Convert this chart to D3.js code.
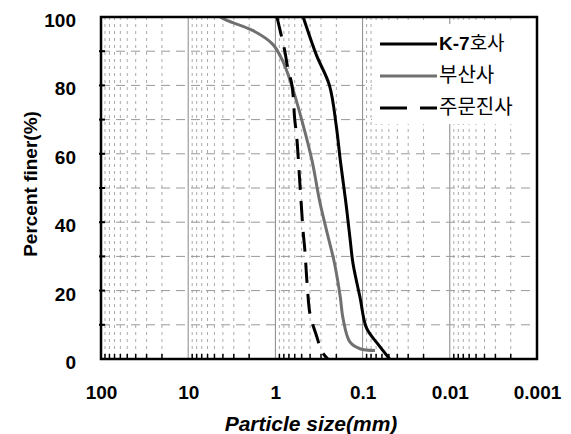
<!DOCTYPE html>
<html>
<head>
<meta charset="utf-8">
<script src="https://cdn.jsdelivr.net/npm/d3@7"></script>
<style>
  body { margin: 0; background: #fff; }
  svg { font-family: Arial, "Liberation Sans", sans-serif; }
</style>
</head>
<body>
<div class="chart"></div>
<script>
// tick values
const xTicks = [100, 10, 1, 0.1, 0.01, 0.001];
const xTickLabels = ["100", "10", "1", "0.1", "0.01", "0.001"];
const yTicks = [0, 20, 40, 60, 80, 100];

// series: [particle size (mm), percent finer]
const k7 = [[0.48, 100], [0.34, 89], [0.24, 80], [0.20, 68], [0.18, 58], [0.156, 46],
  [0.139, 35], [0.129, 28], [0.107, 18], [0.09, 9], [0.067, 4.4], [0.049, 0]];
const busan = [[4.3, 100], [3.6, 99], [1.8, 96], [1.07, 92], [0.82, 87], [0.65, 80],
  [0.5, 70], [0.38, 58], [0.31, 46], [0.25, 36], [0.21, 28], [0.18, 18], [0.168, 12],
  [0.14, 5], [0.107, 3], [0.072, 2.5]];
const jumunjin = [[0.96, 100], [0.78, 90], [0.72, 85], [0.645, 80], [0.6, 70], [0.57, 65],
  [0.52, 50], [0.48, 37], [0.46, 32], [0.43, 21], [0.40, 13], [0.34, 7], [0.29, 2], [0.25, 0]];

const seriesNames = ["K-7호사", "부산사", "주문진사"];

function setupChart() {
  const width = 571;
  const height = 434;
  const margin = {top: 17, right: 34, bottom: 75, left: 101};
  const graphWidth = width - margin.left - margin.right;
  const graphHeight = height - margin.top - margin.bottom;

  const x = d3.scaleLog().domain([100, 0.001]).range([0, graphWidth]);
  const y = d3.scaleLinear().domain([0, 100]).range([graphHeight, 0]);

  const svg = d3.select('.chart').append('svg')
    .attr('width', width)
    .attr('height', height);

  const graph = svg.append('g')
    .attr('transform', `translate(${margin.left}, ${margin.top})`);

  return {svg, graph, x, y, graphWidth, graphHeight, margin};
}

function drawChart(c) {
  const {graph, x, y, graphWidth, graphHeight} = c;

  // minor values for each decade
  const minors = [];
  for (let e = -3; e < 2; e++) {
    for (let m = 2; m <= 9; m++) minors.push(m * Math.pow(10, e));
  }

  // vertical grid
  graph.append('g').selectAll('line.minor')
    .data(minors).enter().append('line')
      .attr('x1', d => x(d)).attr('x2', d => x(d))
      .attr('y1', 0).attr('y2', graphHeight)
      .attr('stroke', '#aaa')
      .attr('stroke-width', 1)
      .attr('stroke-dasharray', '3,4');

  graph.append('g').selectAll('line.major')
    .data(xTicks.slice(1, -1)).enter().append('line')
      .attr('x1', d => x(d)).attr('x2', d => x(d))
      .attr('y1', 0).attr('y2', graphHeight)
      .attr('stroke', '#888')
      .attr('stroke-width', 1);

  // horizontal grid every 10%
  graph.append('g').selectAll('line')
    .data(d3.range(10, 100, 10)).enter().append('line')
      .attr('x1', 0).attr('x2', graphWidth)
      .attr('y1', d => y(d)).attr('y2', d => y(d))
      .attr('stroke', '#999')
      .attr('stroke-width', 1)
      .attr('stroke-dasharray', '9,6');

  // legend background covers grid
  const legend = graph.append('g').attr('transform', 'translate(271, 7)');
  legend.append('rect')
    .attr('width', 165).attr('height', 100)
    .attr('fill', '#fff');

  // curves
  const line = d3.line()
    .x(d => x(d[0]))
    .y(d => y(d[1]))
    .curve(d3.curveCatmullRom.alpha(0.5));

  graph.append('path').datum(busan)
    .attr('d', line)
    .attr('fill', 'none')
    .attr('stroke', '#707070')
    .attr('stroke-width', 3);

  graph.append('path').datum(jumunjin)
    .attr('d', line)
    .attr('fill', 'none')
    .attr('stroke', '#000')
    .attr('stroke-width', 3)
    .attr('stroke-dasharray', '20,11');

  graph.append('path').datum(k7)
    .attr('d', line)
    .attr('fill', 'none')
    .attr('stroke', '#000')
    .attr('stroke-width', 3);

  // axes
  const yAxis = d3.axisLeft(y)
    .tickValues(yTicks)
    .tickSize(0)
    .tickPadding(25);
  const gy = graph.append('g').call(yAxis);
  gy.select('.domain').remove();
  gy.selectAll('text')
    .attr('dy', '0.5em')
    .attr('font-size', 19)
    .attr('font-weight', 'bold')
    .attr('fill', '#000');

  // y inner ticks every 10
  graph.append('g').selectAll('line')
    .data(d3.range(10, 100, 10)).enter().append('line')
      .attr('x1', -2).attr('x2', 4)
      .attr('y1', d => y(d)).attr('y2', d => y(d))
      .attr('stroke', '#000').attr('stroke-width', 2);

  const xAxis = d3.axisBottom(x)
    .tickValues(xTicks)
    .tickFormat((d, i) => xTickLabels[i])
    .tickSize(0)
    .tickPadding(27);
  const gx = graph.append('g')
    .attr('transform', `translate(0, ${graphHeight})`)
    .call(xAxis);
  gx.select('.domain').remove();
  gx.selectAll('text')
    .attr('font-size', 19)
    .attr('font-weight', 'bold')
    .attr('fill', '#000');

  // x minor ticks (inside)
  graph.append('g').selectAll('line')
    .data(minors).enter().append('line')
      .attr('x1', d => x(d)).attr('x2', d => x(d))
      .attr('y1', graphHeight).attr('y2', graphHeight - 5)
      .attr('stroke', '#000').attr('stroke-width', 1.5);

  // frame
  graph.append('rect')
    .attr('width', graphWidth).attr('height', graphHeight)
    .attr('fill', 'none')
    .attr('stroke', '#000')
    .attr('stroke-width', 2.5);

  // axis titles
  graph.append('text')
    .attr('x', 210)
    .attr('y', graphHeight + 72)
    .attr('text-anchor', 'middle')
    .attr('font-size', 21)
    .attr('font-weight', 'bold')
    .attr('font-style', 'italic')
    .text('Particle size(mm)');

  graph.append('text')
    .attr('transform', `translate(-64, ${graphHeight / 2 - 4}) rotate(-90)`)
    .attr('text-anchor', 'middle')
    .attr('font-size', 19)
    .attr('font-weight', 'bold')
    .text('Percent finer(%)');

  // legend entries
  const styles = [
    {stroke: '#000', dash: null},
    {stroke: '#707070', dash: null},
    {stroke: '#000', dash: '27,13'}
  ];
  const rows = legend.selectAll('g.row')
    .data(seriesNames).enter().append('g')
      .attr('transform', (d, i) => `translate(0, ${20 + i * 32})`);
  rows.append('line')
    .attr('x1', 8).attr('x2', 65)
    .attr('stroke', (d, i) => styles[i].stroke)
    .attr('stroke-width', 3)
    .attr('stroke-dasharray', (d, i) => styles[i].dash);
  const label = rows.append('text')
    .attr('x', 67)
    .attr('dy', '0.36em');
  label.each(function (d) {
    const t = d3.select(this);
    if (d.startsWith('K-7')) {
      t.append('tspan').attr('font-weight', 'bold').attr('font-size', 19).text('K-7');
      t.append('tspan').attr('font-family', '"Noto Sans CJK KR"').attr('font-size', 19).text(d.slice(3));
    } else {
      t.append('tspan').attr('font-family', '"Noto Sans CJK KR"').attr('font-size', 20).text(d);
    }
  });
}

drawChart(setupChart());
</script>
</body>
</html>
